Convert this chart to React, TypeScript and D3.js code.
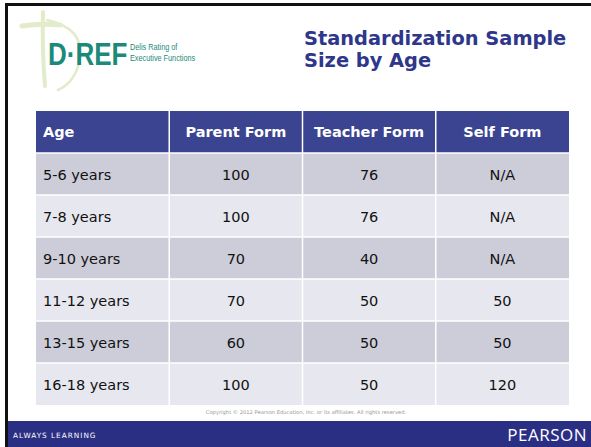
import React from "react";
import * as d3 from "d3";

// table data
const columns = ["Age", "Parent Form", "Teacher Form", "Self Form"];
const ages = ["5-6 years", "7-8 years", "9-10 years", "11-12 years", "13-15 years", "16-18 years"];
const parentForm = ["100", "100", "70", "70", "60", "100"];
const teacherForm = ["76", "76", "40", "50", "50", "50"];
const selfForm = ["N/A", "N/A", "N/A", "50", "50", "120"];

const W = 591,
  H = 447;
const FONT = "'DejaVu Sans', Verdana, sans-serif";
const LOGO_FONT = "'Liberation Sans', Arial, sans-serif";

export default function App() {
  const x = d3.scaleBand().domain(columns).range([36, 569]);
  const y = d3.scaleBand().domain(ages).range([153, 405]);
  const headTop = 111,
    headH = 153 - 111;

  const rows = ages.map((a, i) => [a, parentForm[i], teacherForm[i], selfForm[i]]);

  return (
    <svg
      width={W}
      height={H}
      style={{ position: "absolute", left: 0, top: 0, background: "#fff" }}
      fontFamily={FONT}
    >
      {/* slide frame */}
      <rect x={5} y={3} width={W - 5} height={3} fill="#111" />
      <rect x={5} y={3} width={3} height={H - 3} fill="#111" />

      {/* logo swoosh */}
      <g fill="none" stroke="#e3ecca" strokeLinecap="round">
        <path d="M43,12 Q42,50 45,86" strokeWidth={4} />
        <path d="M22,26 Q40,23 60,25" strokeWidth={5} />
        <path d="M47,20 Q84,28 80,58 Q76,82 58,90" strokeWidth={2.5} />
      </g>
      <text transform="translate(48,65) scale(1,1.2)" fontFamily={LOGO_FONT} fontWeight="bold" fontSize={26} fill="#1b8a7b">
        D·REF
      </text>
      <text transform="translate(130,49.5) scale(1,1.2)" fontFamily={LOGO_FONT} fontSize={7.3} fill="#1b8a7b">
        Delis Rating of
      </text>
      <text transform="translate(130,60.5) scale(1,1.2)" fontFamily={LOGO_FONT} fontSize={7.3} fill="#1b8a7b">
        Executive Functions
      </text>

      {/* title */}
      <g fill="#2e378a" fontWeight="bold" fontSize={19.4}>
        <text x={304} y={45}>Standardization Sample</text>
        <text x={304} y={67}>Size by Age</text>
      </g>

      {/* header */}
      {columns.map((c) => (
        <g key={c}>
          <rect x={x(c)!} y={headTop} width={x.bandwidth()} height={headH} fill="#3a4490" />
          <text
            x={c === "Age" ? x(c)! + 7 : x(c)! + x.bandwidth() / 2}
            y={headTop + headH / 2 + 5}
            textAnchor={c === "Age" ? "start" : "middle"}
            fill="#fff"
            fontWeight="bold"
            fontSize={14.5}
          >
            {c}
          </text>
        </g>
      ))}

      {/* body */}
      {rows.map((r, i) =>
        r.map((v, j) => {
          const c = columns[j];
          return (
            <g key={i + "-" + j}>
              <rect
                x={x(c)!}
                y={y(ages[i])!}
                width={x.bandwidth()}
                height={y.bandwidth()}
                fill={i % 2 === 0 ? "#cdcdda" : "#e7e7ef"}
              />
              <text
                x={j === 0 ? x(c)! + 7 : x(c)! + x.bandwidth() / 2}
                y={y(ages[i])! + y.bandwidth() / 2 + 6}
                textAnchor={j === 0 ? "start" : "middle"}
                fill="#111"
                fontSize={14.5}
              >
                {v}
              </text>
            </g>
          );
        })
      )}
      {/* white grid lines */}
      <g stroke="#fff" strokeWidth={1.5}>
        {columns.slice(1).map((c) => (
          <line key={c} x1={x(c)!} x2={x(c)!} y1={headTop} y2={405} />
        ))}
        {ages.map((a) => (
          <line key={a} x1={36} x2={569} y1={y(a)!} y2={y(a)!} />
        ))}
      </g>

      <text x={306} y={414} textAnchor="middle" fontSize={5.2} fill="#999">
        Copyright © 2012 Pearson Education, Inc. or its affiliates. All rights reserved.
      </text>

      {/* footer */}
      <rect x={8} y={421} width={W - 8} height={H - 421} fill="#2b2f84" />
      <text x={13} y={438} fill="#fff" fontSize={7.3} letterSpacing={1}>
        ALWAYS LEARNING
      </text>
      <text x={587} y={441} textAnchor="end" fill="#fff" fontSize={17} fontFamily="'Open Sans', 'Liberation Sans', sans-serif" letterSpacing={0.5}>
        PEARSON
      </text>
    </svg>
  );
}
